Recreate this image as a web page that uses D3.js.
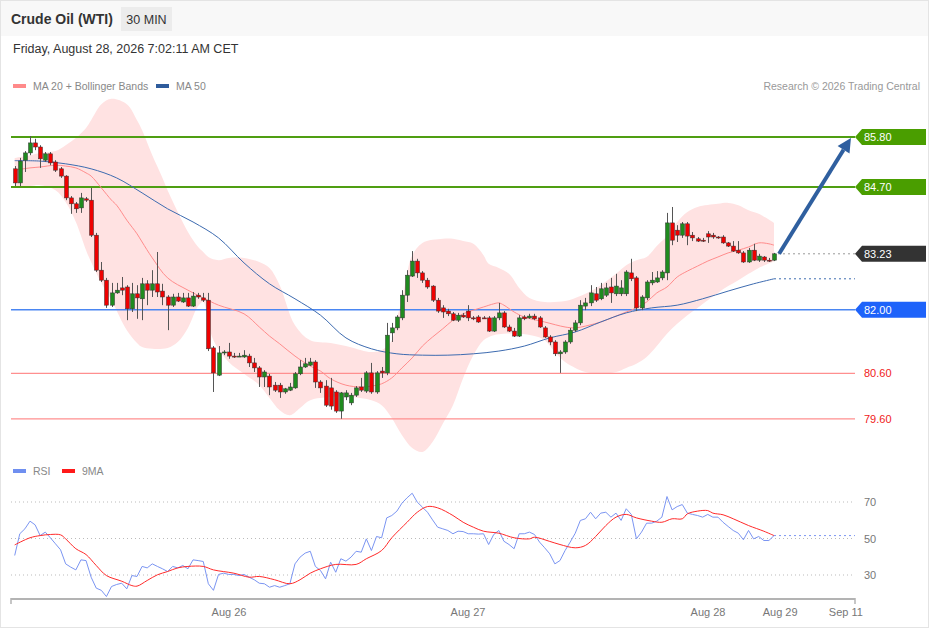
<!DOCTYPE html>
<html>
<head>
<meta charset="utf-8">
<script src="https://cdn.jsdelivr.net/npm/d3@7/dist/d3.min.js"></script>
<style>
body { margin: 0; background: #fff; }
svg { display: block; font-family: "Liberation Sans", Arial, sans-serif; }
</style>
</head>
<body>
<div id="chart"></div>
<script>
// 30 min candles (index 0..149)
var open = [
85.10,84.79,85.29,85.45,85.67,85.58,85.29,85.43,85.25,85.10,
84.94,84.46,84.33,84.24,84.44,84.41,83.64,82.87,82.65,82.10,
82.37,82.48,82.50,82.02,82.35,82.24,82.57,82.43,82.57,82.41,
82.28,82.10,82.28,82.17,82.26,82.08,82.32,82.26,82.21,81.16,
80.56,81.05,81.07,80.98,80.97,80.96,80.98,80.83,80.72,80.52,
80.54,80.34,80.34,80.19,80.23,80.28,80.59,80.74,80.78,80.85,
80.41,80.32,80.28,80.19,79.77,80.08,79.95,80.12,80.30,80.21,
80.61,80.19,80.65,80.61,81.49,81.60,81.82,82.32,82.74,83.07,
82.81,82.65,82.52,82.21,82.04,81.97,81.91,81.77,81.88,81.97,
81.82,81.84,81.82,81.82,81.53,81.82,81.93,81.62,81.53,81.42,
81.84,81.82,81.86,81.82,81.60,81.40,81.29,81.03,81.07,81.29,
81.55,81.71,82.08,82.15,82.35,82.24,82.32,82.50,82.35,82.35,
82.35,82.81,82.70,82.04,82.26,82.59,82.61,82.70,82.81,83.91,
83.75,83.64,83.89,83.64,83.56,83.53,83.67,83.64,83.60,83.60,
83.47,83.40,83.31,83.25,83.05,83.31,83.09,83.16,83.09,83.09];
var high = [
85.16,85.34,85.49,85.82,85.76,85.62,85.47,85.47,85.29,85.14,
84.96,84.50,84.37,84.57,84.48,84.68,83.69,83.05,82.70,82.59,
82.59,82.72,82.54,82.59,82.54,82.70,82.65,82.87,83.27,82.57,
82.32,82.35,82.37,82.37,82.37,82.39,82.37,82.37,82.37,81.20,
81.20,81.11,81.27,81.05,81.05,81.11,81.03,80.94,80.76,80.67,
80.59,80.41,80.39,80.28,80.39,80.63,80.89,80.94,80.94,80.89,
80.45,80.45,80.50,80.23,80.19,80.23,80.17,80.32,80.50,80.65,
80.83,80.65,80.74,81.71,81.71,81.88,82.43,82.87,83.29,83.12,
82.85,82.70,82.54,82.26,82.10,82.02,81.95,81.93,81.93,82.10,
81.86,81.88,81.86,81.86,81.86,82.15,81.97,81.67,81.60,81.88,
81.88,81.91,81.91,81.86,81.64,81.44,81.33,81.11,81.33,81.60,
81.77,82.21,82.26,82.54,82.50,82.59,82.59,82.70,82.79,82.65,
82.87,83.12,82.74,82.32,82.65,82.83,82.85,82.87,84.13,84.26,
83.86,83.93,83.93,83.71,83.60,83.58,83.73,83.69,83.62,83.64,
83.49,83.51,83.51,83.29,83.36,83.45,83.23,83.18,83.14,83.25];
var low = [
84.72,84.72,85.03,85.40,85.51,85.12,85.25,85.18,85.03,84.90,
84.41,84.11,84.13,84.13,84.37,83.60,82.83,82.61,82.04,82.06,
82.35,82.32,81.77,81.95,81.80,81.77,82.10,82.28,82.28,82.10,
81.55,82.06,82.17,82.15,82.06,82.06,82.24,82.17,81.09,80.19,
80.54,81.00,80.92,80.94,80.96,80.94,80.74,80.63,80.30,80.30,
80.12,80.19,80.06,80.15,80.21,80.26,80.56,80.72,80.76,80.28,
80.17,79.86,79.80,79.73,79.60,80.01,79.90,80.08,80.19,80.17,
80.15,80.15,80.50,80.56,81.29,81.55,81.77,82.17,82.72,82.70,
82.59,82.46,82.17,81.93,81.82,81.86,81.75,81.73,81.82,81.75,
81.77,81.71,81.80,81.51,81.51,81.77,81.60,81.51,81.40,81.40,
81.77,81.80,81.77,81.60,81.38,81.22,80.98,80.61,81.03,81.25,
81.51,81.66,81.99,82.08,82.17,82.21,82.28,82.15,82.30,82.30,
82.30,82.63,81.97,81.99,82.21,82.54,82.59,82.65,82.65,83.42,
83.49,83.58,83.42,83.51,83.49,83.49,83.47,83.56,83.56,83.45,
83.38,83.27,83.23,83.03,83.03,83.07,83.05,83.05,83.05,83.07];
var close = [
84.79,85.27,85.45,85.67,85.58,85.32,85.43,85.23,85.07,84.94,
84.46,84.33,84.22,84.46,84.41,83.64,82.87,82.65,82.10,82.37,
82.43,82.43,82.02,82.35,82.26,82.57,82.43,82.57,82.39,82.28,
82.10,82.28,82.19,82.26,82.08,82.30,82.28,82.21,81.14,80.61,
81.05,81.07,80.98,80.97,80.98,81.00,80.83,80.72,80.52,80.63,
80.30,80.23,80.19,80.26,80.30,80.59,80.74,80.81,80.85,80.41,
80.28,79.90,79.88,79.77,80.17,80.17,80.12,80.28,80.23,80.61,
80.19,80.61,80.61,81.44,81.60,81.84,82.32,82.76,83.07,82.81,
82.65,82.50,82.21,81.97,81.95,81.91,81.77,81.88,81.84,81.82,
81.81,81.73,81.81,81.53,81.82,81.93,81.62,81.53,81.42,81.82,
81.80,81.86,81.80,81.62,81.40,81.29,81.03,81.07,81.29,81.55,
81.71,82.10,82.15,82.37,82.21,82.46,82.48,82.37,82.52,82.48,
82.83,82.68,82.04,82.28,82.61,82.65,82.70,82.83,83.91,83.53,
83.64,83.89,83.62,83.58,83.51,83.52,83.60,83.60,83.58,83.47,
83.40,83.29,83.25,83.05,83.31,83.09,83.18,83.09,83.08,83.23];

// indicator lines, [candle index, value]
var ma20 = [[0,85.07],[3,85.12],[5,85.14],[8,85.18],[10,85.16],[12,85.12],[14,85.01],[15,84.94],[17,84.68],[19,84.41],[20,84.30],[22,83.97],[24,83.67],[25,83.49],[27,83.14],[30,82.70],[34,82.43],[37,82.26],[40,82.10],[45,81.91],[48,81.62],[50,81.42],[52,81.25],[55,80.98],[58,80.76],[60,80.65],[62,80.48],[65,80.34],[68,80.30],[70,80.32],[72,80.37],[74,80.50],[76,80.72],[78,80.94],[80,81.20],[82,81.40],[84,81.58],[86,81.77],[88,81.91],[90,81.99],[92,82.06],[94,82.13],[95,82.15],[96,82.10],[98,81.95],[100,81.84],[104,81.73],[108,81.62],[110,81.60],[112,81.64],[115,81.73],[118,81.86],[120,81.95],[122,82.04],[124,82.17],[126,82.37],[128,82.50],[130,82.72],[132,82.85],[134,82.96],[136,83.07],[138,83.16],[140,83.25],[142,83.31],[144,83.38],[146,83.47],[148,83.45],[149,83.42]];
var bandUp = [[0,85.34],[3,85.40],[5,85.45],[8,85.49],[10,85.62],[12,85.78],[14,86.00],[15,86.17],[17,86.52],[19,86.64],[22,86.52],[24,86.17],[25,85.95],[27,85.40],[29,84.90],[30,84.63],[32,84.15],[34,83.71],[36,83.38],[37,83.27],[38,83.16],[40,83.09],[42,83.14],[45,83.14],[48,83.05],[50,82.92],[52,82.54],[55,81.66],[58,81.33],[62,81.27],[65,81.20],[68,81.11],[70,81.07],[72,81.11],[74,81.33],[75,81.82],[76,82.21],[77,82.81],[78,83.20],[80,83.47],[84,83.56],[86,83.56],[88,83.51],[90,83.45],[92,83.20],[93,83.01],[95,82.92],[97,82.79],[99,82.48],[101,82.26],[104,82.17],[108,82.19],[110,82.26],[112,82.35],[115,82.54],[118,82.79],[120,82.98],[122,83.09],[124,83.16],[126,83.40],[128,83.62],[130,83.93],[132,84.15],[134,84.26],[138,84.33],[140,84.35],[142,84.30],[144,84.19],[146,84.11],[149,83.91]];
var bandLow = [[0,84.68],[3,84.72],[5,84.74],[8,84.63],[10,84.37],[12,83.93],[14,83.31],[15,83.05],[17,82.59],[19,82.21],[22,81.55],[24,81.27],[25,81.18],[27,81.14],[30,81.16],[32,81.29],[34,81.60],[36,82.08],[37,82.17],[38,81.73],[39,81.33],[42,80.85],[45,80.59],[48,80.34],[50,80.06],[52,79.79],[54,79.68],[56,79.84],[58,80.01],[62,80.08],[66,80.08],[70,80.01],[72,79.90],[74,79.62],[76,79.24],[78,78.96],[80,78.87],[82,79.09],[84,79.49],[86,79.90],[88,80.50],[90,81.00],[92,81.33],[94,81.44],[96,81.47],[99,81.47],[102,81.42],[104,81.33],[106,81.07],[108,80.85],[110,80.72],[112,80.63],[115,80.59],[118,80.63],[120,80.72],[122,80.81],[124,80.96],[126,81.20],[128,81.47],[130,81.69],[132,81.88],[134,82.04],[136,82.21],[138,82.37],[140,82.52],[142,82.65],[144,82.79],[146,82.92],[149,83.06]];
var ma50 = [[0,85.28],[5,85.27],[10,85.21],[15,85.10],[20,84.90],[25,84.57],[30,84.22],[35,83.93],[40,83.58],[45,83.03],[50,82.57],[55,82.24],[60,81.88],[65,81.38],[70,81.14],[75,81.03],[80,81.00],[85,81.00],[90,81.03],[95,81.09],[100,81.20],[105,81.38],[110,81.51],[115,81.73],[120,81.93],[125,82.04],[130,82.10],[135,82.24],[140,82.41],[145,82.57],[149,82.68]];

// RSI, one value per candle
var rsi = [
40.7,52.6,55.3,59.5,57.5,51.6,53.5,50.4,47.1,43.8,
36.1,34.3,32.8,38.3,37.9,28.8,22.8,21.6,18.2,23.7,
24.8,25.5,22.4,29.7,29.2,34.7,33.9,36.1,34.7,33.4,
31.9,34.7,33.9,35.2,33.4,38.3,37.9,37.4,25.2,21.6,
30.3,31.0,30.3,30.3,29.7,30.3,28.8,27.4,25.5,25.2,
23.3,24.2,23.3,24.2,25.2,36.1,39.8,42.0,43.0,34.7,
32.5,27.9,37.0,31.5,38.9,37.6,39.8,43.0,42.5,49.8,
43.4,51.1,50.4,61.3,62.6,65.0,69.4,72.3,74.8,69.9,
67.2,64.4,60.2,56.2,55.3,54.4,52.6,54.0,53.8,52.6,
52.6,52.4,52.6,46.7,52.2,54.4,48.5,46.7,44.4,52.6,
52.6,53.5,52.2,48.0,44.9,41.6,36.1,37.9,43.4,48.0,
52.9,59.9,60.8,64.4,60.8,63.9,64.4,61.7,63.9,59.9,
66.3,63.2,49.8,53.5,58.4,58.4,59.5,61.7,73.0,65.7,
67.5,68.6,63.9,63.2,62.6,61.7,63.2,61.7,61.7,58.9,
56.6,54.4,52.9,49.3,54.4,49.8,51.1,48.9,48.9,51.6];
var rsiMa = [[0,46.5],[3,50.4],[5,51.6],[7,52.2],[9,52.0],[10,49.8],[12,44.4],[14,41.2],[16,35.2],[18,29.7],[21,26.6],[23,24.2],[24,23.9],[26,27.0],[28,30.1],[30,31.9],[32,33.9],[34,34.7],[37,34.7],[39,32.8],[43,31.0],[46,28.8],[48,29.2],[51,27.4],[54,25.2],[56,27.4],[58,31.0],[60,33.4],[63,35.8],[67,35.8],[69,38.9],[72,43.4],[74,50.4],[77,58.9],[79,64.4],[81,67.5],[83,66.8],[86,62.6],[88,58.9],[90,56.2],[92,54.0],[95,52.9],[98,50.4],[101,49.8],[102,50.7],[105,48.4],[107,46.7],[110,44.9],[112,46.2],[114,51.1],[116,57.1],[118,61.7],[120,63.2],[122,61.3],[125,59.5],[127,58.9],[129,60.8],[131,60.8],[132,63.5],[134,65.0],[136,65.3],[137,63.9],[139,63.0],[141,60.8],[144,57.1],[147,54.0],[149,51.6]];

// key levels
var levelPrices = [85.80, 84.70, 83.23, 82.00, 80.60, 79.60];
var levelKinds  = ["res", "res", "last", "pivot", "sup", "sup"];
var rsiTicks = [70, 50, 30];
var timeLabels = ["Aug 26", "Aug 27", "Aug 28", "Aug 29", "Sep 11"];
var timeIdx = [42.05, 88.95, 136.05, 150.2, 163.1];
var arrowPts = [[150, 83.23], [164.1, 85.78]];

var width = 929, height = 629;
var left = 11, right = 855;

var svg = d3.select("#chart").append("svg")
    .attr("width", width)
    .attr("height", height);

var x = d3.scaleLinear().domain([0, 149]).range([14.7, 774]);
var y = d3.scaleLinear().domain([79.6, 85.8]).range([418.8, 137]);
var yr = d3.scaleLinear().domain([30, 70]).range([575, 502]);

// frame + header
svg.append("rect").attr("x", 0.5).attr("y", 0.5).attr("width", width - 1).attr("height", height - 2)
    .attr("fill", "#fff").attr("stroke", "#e4e4e4");
svg.append("rect").attr("x", 1).attr("y", 1).attr("width", width - 2).attr("height", 35).attr("fill", "#f8f8f8");
svg.append("text").attr("x", 11).attr("y", 24).text("Crude Oil (WTI)")
    .style("font-size", "14px").style("font-weight", "bold").style("fill", "#333");
svg.append("rect").attr("x", 121).attr("y", 7).attr("width", 51).attr("height", 24).attr("fill", "#ececec");
svg.append("text").attr("x", 146.5).attr("y", 23.5).attr("text-anchor", "middle").text("30 MIN")
    .style("font-size", "12.5px").style("fill", "#333");
svg.append("text").attr("x", 13).attr("y", 53).text("Friday, August 28, 2026 7:02:11 AM CET")
    .style("font-size", "12.5px").style("fill", "#333");

// legends
function legendItem(lx, ly, colour, label) {
  svg.append("rect").attr("x", lx).attr("y", ly - 2).attr("width", 13).attr("height", 4).attr("fill", colour);
  svg.append("text").attr("x", lx + 20).attr("y", ly + 4).text(label)
      .style("font-size", "10.5px").style("fill", "#888");
}
legendItem(13, 86, "#ff8a8a", "MA 20 + Bollinger Bands");
legendItem(156, 86, "#2f5c9c", "MA 50");
legendItem(13, 471, "#6f8ff0", "RSI");
legendItem(62, 471, "#ff1a1a", "9MA");
svg.append("text").attr("x", 920).attr("y", 90).attr("text-anchor", "end")
    .text("Research \u00a9 2026 Trading Central")
    .style("font-size", "10.5px").style("fill", "#999");

// Bollinger band
var lineP = d3.line().x(function(d) { return x(d[0]); }).y(function(d) { return y(d[1]); })
    .curve(d3.curveCatmullRom);
var upD = lineP(bandUp);
var lowD = lineP(bandLow.slice().reverse());
svg.append("path").attr("d", upD + "L" + lowD.slice(1) + "Z")
    .attr("fill", "#ffe2e2").attr("stroke", "none");

// level lines
var levelColour = { res: "#4f9e12", last: "#999", pivot: "#4a86f2", sup: "#ff8f8f" };
var levelWidth = { res: 2.2, last: 1, pivot: 1.6, sup: 1.2 };
levelPrices.forEach(function(p, k) {
  var kind = levelKinds[k];
  var x0 = kind === "last" ? x(149) + 4 : left;
  var ln = svg.append("line").attr("x1", x0).attr("x2", right)
      .attr("y1", y(p)).attr("y2", y(p))
      .attr("stroke", levelColour[kind]).attr("stroke-width", levelWidth[kind]);
  if (kind === "last") ln.attr("stroke-dasharray", "2,3");
});

// MA lines
svg.append("path").attr("d", lineP(ma20)).attr("fill", "none")
    .attr("stroke", "#ff8c8c").attr("stroke-width", 1);
svg.append("path").attr("d", lineP(ma50)).attr("fill", "none")
    .attr("stroke", "#3d6bb0").attr("stroke-width", 1);
svg.append("line").attr("x1", x(149)).attr("x2", right)
    .attr("y1", y(ma50[ma50.length - 1][1])).attr("y2", y(ma50[ma50.length - 1][1]))
    .attr("stroke", "#3d6bb0").attr("stroke-width", 1).attr("stroke-dasharray", "2,3");

// candles
var candles = d3.range(open.length);
var cg = svg.append("g");
cg.selectAll("line.wick").data(candles).enter().append("line")
    .attr("class", "wick")
    .attr("x1", function(i) { return Math.round(x(i)) + 0.5; })
    .attr("x2", function(i) { return Math.round(x(i)) + 0.5; })
    .attr("y1", function(i) { return y(high[i]); })
    .attr("y2", function(i) { return y(low[i]); })
    .attr("stroke", "#555").attr("stroke-width", 1);
cg.selectAll("rect.body").data(candles).enter().append("rect")
    .attr("class", "body")
    .attr("x", function(i) { return Math.round(x(i)) - 1.5; })
    .attr("width", 4)
    .attr("y", function(i) { return y(Math.max(open[i], close[i])); })
    .attr("height", function(i) { return Math.max(1, Math.abs(y(open[i]) - y(close[i]))); })
    .attr("fill", function(i) { return close[i] >= open[i] ? "#1f8b1f" : "#ee0000"; })
    .attr("stroke", "#333").attr("stroke-width", 0.5);

// projection arrow
var ax0 = x(arrowPts[0][0]), ay0 = y(arrowPts[0][1]);
var ax1 = x(arrowPts[1][0]), ay1 = y(arrowPts[1][1]);
var ang = Math.atan2(ay1 - ay0, ax1 - ax0);
var headLen = 14, headW = 7;
var bx = ax1 - headLen * Math.cos(ang), by = ay1 - headLen * Math.sin(ang);
svg.append("line").attr("x1", ax0).attr("y1", ay0).attr("x2", bx).attr("y2", by)
    .attr("stroke", "#2f5f9f").attr("stroke-width", 4);
svg.append("polygon")
    .attr("points", [
      [ax1, ay1],
      [bx + headW * Math.sin(ang), by - headW * Math.cos(ang)],
      [bx - headW * Math.sin(ang), by + headW * Math.cos(ang)]
    ].map(function(p) { return p.join(","); }).join(" "))
    .attr("fill", "#2f5f9f");

// level tags
var tagFill = { res: "#4a9e00", last: "#333333", pivot: "#1e63fa" };
levelPrices.forEach(function(p, k) {
  var kind = levelKinds[k];
  var ty = y(p);
  if (tagFill[kind]) {
    svg.append("polygon")
        .attr("points", [[right, ty], [right + 7, ty - 8], [926, ty - 8], [926, ty + 8], [right + 7, ty + 8]]
            .map(function(q) { return q.join(","); }).join(" "))
        .attr("fill", tagFill[kind]);
  }
  svg.append("text").attr("x", 864).attr("y", ty + 4).text(p.toFixed(2))
      .style("font-size", "11px")
      .style("fill", tagFill[kind] ? "#fff" : "#f02020");
});

// RSI panel
rsiTicks.forEach(function(t) {
  svg.append("line").attr("x1", left).attr("x2", right).attr("y1", yr(t)).attr("y2", yr(t))
      .attr("stroke", "#bbb").attr("stroke-width", 1).attr("stroke-dasharray", "1,3");
  svg.append("text").attr("x", 864).attr("y", yr(t) + 4).text(t)
      .style("font-size", "11px").style("fill", "#777");
});
var lineR = d3.line().x(function(d, i) { return x(i); }).y(function(d) { return yr(d); });
svg.append("path").attr("d", lineR(rsi)).attr("fill", "none")
    .attr("stroke", "#7b95f2").attr("stroke-width", 1);
var lineRM = d3.line().x(function(d) { return x(d[0]); }).y(function(d) { return yr(d[1]); })
    .curve(d3.curveCatmullRom);
svg.append("path").attr("d", lineRM(rsiMa)).attr("fill", "none")
    .attr("stroke", "#ff2a2a").attr("stroke-width", 1);
svg.append("line").attr("x1", x(149)).attr("x2", right)
    .attr("y1", yr(rsi[rsi.length - 1])).attr("y2", yr(rsi[rsi.length - 1]))
    .attr("stroke", "#7b95f2").attr("stroke-width", 1).attr("stroke-dasharray", "2,3");

// time axis
svg.append("line").attr("x1", left).attr("x2", right).attr("y1", 599).attr("y2", 599)
    .attr("stroke", "#b3b3b3").attr("stroke-width", 2);
[left, right].forEach(function(tx) {
  svg.append("line").attr("x1", tx).attr("x2", tx).attr("y1", 598).attr("y2", 604)
      .attr("stroke", "#b3b3b3").attr("stroke-width", 1.5);
});
timeLabels.forEach(function(lbl, k) {
  svg.append("text").attr("x", x(timeIdx[k])).attr("y", 616).attr("text-anchor", "middle")
      .text(lbl).style("font-size", "11px").style("fill", "#777");
});
</script>
</body>
</html>
